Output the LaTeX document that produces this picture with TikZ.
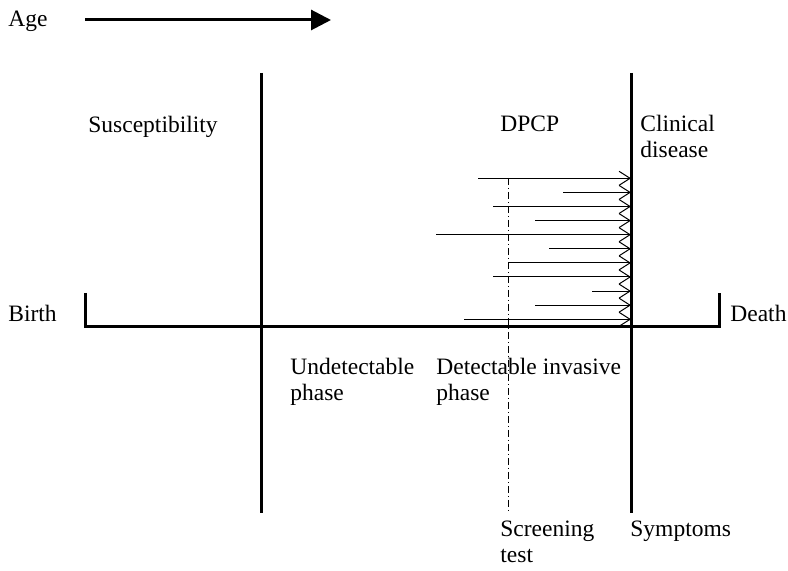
\documentclass[tikz,border=0pt]{standalone}
\usepackage{fontspec}
\setmainfont{Liberation Serif}
\usepackage{tikz}
\usetikzlibrary{arrows.meta}

\begin{document}
\begin{tikzpicture}[
x=0.5pt,y=-0.5pt,
Axis/.style={draw=black,line width=1.5pt},
Cases/.style={draw=black,line width=0.5pt,-{Straight Barb[length=5.5pt,width=7pt]}},
Screen/.style={draw=black,line width=0.5pt,dash pattern=on 3.5pt off 1.5pt on 0.5pt off 1.5pt},
Labels/.style={anchor=base west,inner sep=0pt,align=left,font=\fontsize{11.75}{13}\selectfont}
]
\useasboundingbox (0,0) rectangle (788,571);

% age arrow
\node[Labels] (age) at (8,27) {Age};
\coordinate (AgeA) at (85,20);
\coordinate (AgeB) at (331,20);
\draw[Axis,-{Triangle[length=10pt,width=10pt]}] (AgeA)--(AgeB);

% life line from birth to death
\coordinate (B1) at (85,293);
\coordinate (B2) at (85,327);
\coordinate (D2) at (719,327);
\coordinate (D1) at (719,293);
\draw[Axis] (B1)--(B2)--(D2)--(D1);
\node[Labels] (birth) at (8,322) {Birth};
\node[Labels] (death) at (730,322) {Death};

% onset and symptoms
\coordinate (O1) at (261,73);
\coordinate (O2) at (261,513);
\coordinate (S1) at (631,73);
\coordinate (S2) at (631,513);
\draw[Axis] (O1)--(O2);
\draw[Axis] (S1)--(S2);

% screening test
\coordinate (T1) at (508,178);
\coordinate (T2) at (508,513);
\draw[Screen] (T1)--(T2);

% cases running up to symptoms
\foreach \xs [count=\i] in {478,563,493,535,436,549,508,493,592,535,464}{
  \pgfmathsetmacro\yc{164.2+14.1*\i}
  \coordinate (C\i) at (\xs,\yc);
  \coordinate (E\i) at (631,\yc);
  \draw[Cases] (C\i)--(E\i);
}

% two-line labels sit on the baseline of their last line
\node[Labels] (suscept) at (88,133) {Susceptibility};
\node[Labels] (dpcp) at (500,132) {DPCP};
\node[Labels] (clinical) at (640,158) {Clinical\\disease};
\node[Labels] (undetect) at (290,401) {Undetectable\\phase};
\node[Labels] (detect) at (436,401) {Detectable invasive\\phase};
\node[Labels] (screen) at (500,563) {Screening\\test};
\node[Labels] (sympt) at (630,537) {Symptoms};

\end{tikzpicture}
\end{document}
